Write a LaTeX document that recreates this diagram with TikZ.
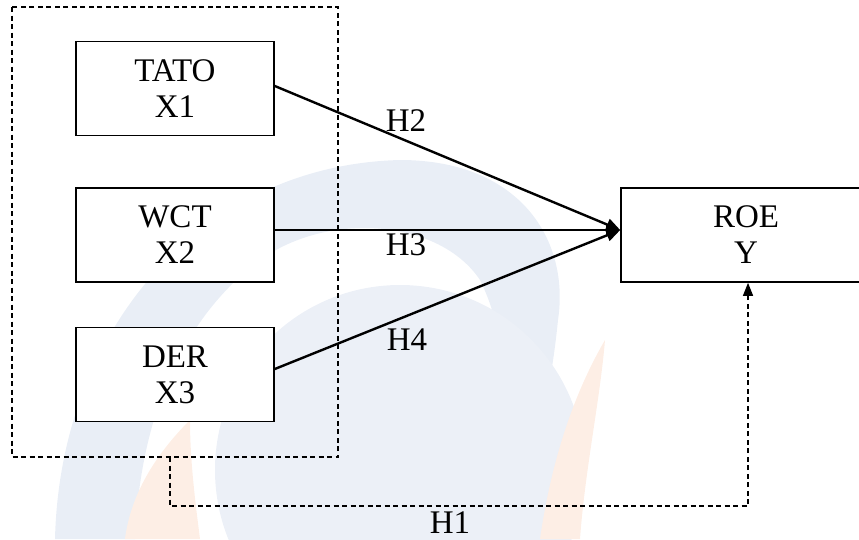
\documentclass[tikz,border=0pt]{standalone}
\usepackage{fontspec}
\setmainfont{Liberation Serif}
\usetikzlibrary{arrows.meta,calc}
\definecolor{wmblue}{RGB}{233,238,246}
\definecolor{wmblue2}{RGB}{236,240,247}
\definecolor{wmorange}{RGB}{253,238,229}
\begin{document}
\begin{tikzpicture}[x=1pt,y=-1pt,
  varbox/.style={draw=black,line width=1.6pt,fill=white,minimum width=198pt,minimum height=94pt,
    align=center,inner sep=0pt,font=\fontsize{33}{36}\selectfont},
  hlabel/.style={font=\fontsize{33}{36}\selectfont,inner sep=0pt,anchor=base},
  path/.style={line width=2.4pt,-{Triangle[length=14pt,width=12pt]}},
  dashline/.style={line width=1.3pt,dash pattern=on 5pt off 3.5pt}]
\useasboundingbox (0,0) rectangle (859,539);
% faint watermark
\fill[wmblue] (55,539) .. controls (60,330) and (200,165) .. (400,160)
  .. controls (520,160) and (570,240) .. (558,320) .. controls (550,400) and (535,450) .. (520,480)
  .. controls (510,400) and (505,330) .. (480,280) .. controls (440,220) and (330,210) .. (260,260)
  .. controls (180,320) and (140,420) .. (135,539) -- cycle;
\fill[wmblue2] (400,470) circle[radius=185];
\fill[wmorange] (190,420) .. controls (150,460) and (130,500) .. (125,539) -- (200,539)
  .. controls (195,500) and (190,460) .. (190,420) -- cycle;
\fill[wmorange] (605,340) .. controls (570,400) and (550,470) .. (540,539) -- (580,539)
  .. controls (585,470) and (600,400) .. (605,340) -- cycle;
% outer dashed group box
\draw[dashline] (12,7) rectangle (338,457);
\coordinate (grp) at (170,457);
% nodes
\node[varbox] (tato) at (175,88.5) {TATO\\X1};
\node[varbox] (wct) at (175,235) {WCT\\X2};
\node[varbox] (der) at (175,374.5) {DER\\X3};
\node[varbox,minimum width=250pt] (roe) at (746,235) {ROE\\Y};
\coordinate (tip) at ($(roe.west)+(0,-5)$);
% connectors
\draw[path] ($(tato.east)+(0,-2.5)$) -- (tip);
\draw[path] ($(wct.east)+(0,-5)$) -- (tip);
\draw[path] ($(der.east)+(0,-5.5)$) -- (tip);
\coordinate (c1) at (170,506);
\coordinate (c2) at (748,506);
\draw[dashline,-{Triangle[length=13pt,width=10pt]}] (grp) -- (c1) -- (c2) -- (roe.south -| c2);
% labels
\node[hlabel] (h2) at (406,131) {H2};
\node[hlabel] (h3) at (406,255) {H3};
\node[hlabel] (h4) at (407,350) {H4};
\node[hlabel] (h1) at (450,533) {H1};
\end{tikzpicture}
\end{document}
